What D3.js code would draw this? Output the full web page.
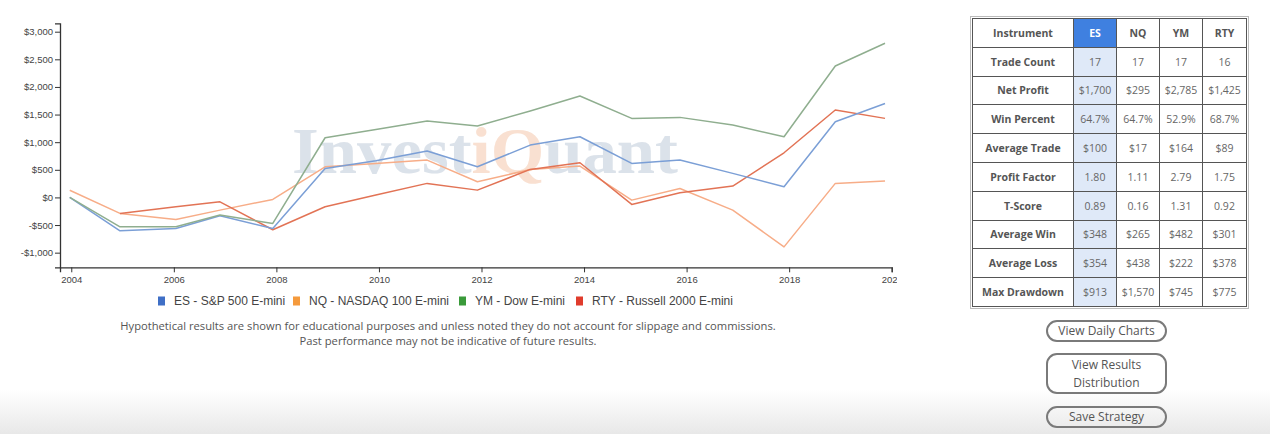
<!DOCTYPE html>
<html><head><meta charset="utf-8">
<script src="https://cdn.jsdelivr.net/npm/d3@7"></script>
<style>
html,body{margin:0;padding:0;width:1270px;height:434px;overflow:hidden;background:#fff;}
body{position:relative;font-family:"Liberation Sans",Arial,sans-serif;}
#bg{position:absolute;left:0;top:390px;width:1270px;height:44px;background:linear-gradient(#fff,#e8e8e8);}
#chart{position:absolute;left:0;top:0;}
#tbl{position:absolute;left:972px;top:18px;}
table{border-collapse:collapse;font-family:"Open Sans",sans-serif;font-size:10.5px;outline:1px solid #bbb;outline-offset:1px;}
td{border:1px solid #555;text-align:center;height:27.8px;padding:0;color:#666;}
td.lab{font-weight:bold;color:#555;width:100px;}
td.hd{font-weight:bold;color:#555;}
td.es{background:#dfe9f8;}
td.eshd{background:#3f80e0;color:#fff;font-weight:bold;}
.btn{position:absolute;left:1046px;width:121px;border:2px solid #7a7a7a;border-radius:11px;font-family:"Open Sans",sans-serif;font-size:12px;color:#555;text-align:center;box-sizing:border-box;}
#disc{position:absolute;left:0;width:896px;text-align:center;font-family:"Open Sans",sans-serif;font-size:11.2px;color:#555;line-height:15px;top:318px;}
</style></head>
<body>
<div id="bg"></div>
<svg id="chart" width="897" height="315"></svg>
<div id="disc">Hypothetical results are shown for educational purposes and unless noted they do not account for slippage and commissions.<br>Past performance may not be indicative of future results.</div>
<div id="tbl"></div>
<div class="btn" style="top:320px;height:22px;line-height:18px;">View Daily Charts</div>
<div class="btn" style="top:353px;height:41px;line-height:18px;padding-top:1px;">View Results<br>Distribution</div>
<div class="btn" style="top:406px;height:22px;line-height:18px;">Save Strategy</div>
<script>
// ---- data ----
const years = [2003.97, 2004.95, 2006.04, 2006.90, 2007.93, 2008.95, 2009.94, 2010.94, 2011.92, 2012.95, 2013.92, 2014.93, 2015.87, 2016.90, 2017.90, 2018.90, 2019.87];
const esValues  = [0, -605, -562, -333, -562, 525, 663, 839, 554, 947, 1098, 616, 676, 435, 192, 1370, 1700];
const nqValues  = [130, -290, -399, -230, -36, 554, 616, 676, 283, 507, 567, -49, 161, -230, -895, 254, 295];
const ymValues  = [0, -532, -532, -320, -471, 1080, 1230, 1382, 1292, 1565, 1835, 1430, 1449, 1310, 1098, 2379, 2790];
const rtyValues = [null, -290, -170, -80, -585, -170, 42, 254, 132, 507, 627, -127, 83, 205, 808, 1582, 1431];
const seriesNames = ["ES - S&P 500 E-mini", "NQ - NASDAQ 100 E-mini", "YM - Dow E-mini", "RTY - Russell 2000 E-mini"];
const yTicks = [-1000, -500, 0, 500, 1000, 1500, 2000, 2500, 3000];
const xTicks = [2004, 2006, 2008, 2010, 2012, 2014, 2016, 2018, 2020];

const tableHeader = ["Instrument", "ES", "NQ", "YM", "RTY"];
const tableRows = [
  ["Trade Count", "17", "17", "17", "16"],
  ["Net Profit", "$1,700", "$295", "$2,785", "$1,425"],
  ["Win Percent", "64.7%", "64.7%", "52.9%", "68.7%"],
  ["Average Trade", "$100", "$17", "$164", "$89"],
  ["Profit Factor", "1.80", "1.11", "2.79", "1.75"],
  ["T-Score", "0.89", "0.16", "1.31", "0.92"],
  ["Average Win", "$348", "$265", "$482", "$301"],
  ["Average Loss", "$354", "$438", "$222", "$378"],
  ["Max Drawdown", "$913", "$1,570", "$745", "$775"]
];

// ---- chart ----
const svg = d3.select("#chart");
const x = d3.scaleLinear().domain([2003.78, 2020]).range([60, 891.7]);
const y = d3.scaleLinear().domain([-1265, 3152]).range([267.3, 23.3]);

// watermark
const wm = svg.append("text").attr("x", 292).attr("y", 173)
  .attr("font-family", "'Liberation Serif','DejaVu Serif',serif").attr("font-size", 66).attr("font-weight", "bold")
  .attr("textLength", 386).attr("lengthAdjust", "spacingAndGlyphs").attr("opacity", 0.5);
wm.append("tspan").attr("fill", "#b9c6d6").text("Invest");
wm.append("tspan").attr("fill", "#f4c3a4").text("iQ");
wm.append("tspan").attr("fill", "#b9c6d6").text("uant");

const yAxis = svg.append("g").attr("transform", "translate(60,0)")
  .call(d3.axisLeft(y).tickValues(yTicks).tickSize(5).tickFormat(d => (d < 0 ? "-$" : "$") + d3.format(",")(Math.abs(d))));
const xAxis = svg.append("g").attr("transform", "translate(0,267.3)")
  .call(d3.axisBottom(x).tickValues(xTicks).tickSize(5).tickFormat(d3.format("d")));
[yAxis, xAxis].forEach(g => {
  g.selectAll("text").attr("font-family", "'Liberation Sans',Arial,sans-serif").attr("font-size", 9.5).attr("fill", "#444");
  g.selectAll("line").attr("stroke", "#333");
  g.select(".domain").attr("stroke", "#333").attr("stroke-width", 1.3);
});
yAxis.selectAll("text").attr("x", -7);
xAxis.selectAll("text").attr("y", 9);

const lineColors = ["#7b9fd6", "#f7ad88", "#8fae8f", "#e27355"];
const allSeries = [esValues, nqValues, ymValues, rtyValues];
const line = d3.line().defined(d => d[1] !== null).x(d => x(d[0])).y(d => y(d[1]));
[1, 3, 0, 2].forEach(i => {
  svg.append("path").datum(years.map((yr, j) => [yr, allSeries[i][j]]))
    .attr("d", line).attr("fill", "none").attr("stroke", lineColors[i]).attr("stroke-width", 1.5)
    .attr("stroke-linejoin", "round");
});

// legend
const legendColors = ["#3f6fc6", "#f59a3c", "#3a9a3a", "#e03c2c"];
const legendX = [158, 293, 459, 576];
const lg = svg.append("g");
seriesNames.forEach((n, i) => {
  lg.append("rect").attr("x", legendX[i]).attr("y", 296.5).attr("width", 7).attr("height", 9).attr("fill", legendColors[i]);
  lg.append("text").attr("x", legendX[i] + 16).attr("y", 305).text(n)
    .attr("font-family", "'Liberation Sans',Arial,sans-serif").attr("font-size", 12).attr("fill", "#444");
});

// ---- table ----
const table = d3.select("#tbl").append("table");
const hr = table.append("tr");
tableHeader.forEach((h, i) => {
  hr.append("td").attr("class", i === 0 ? "lab" : (i === 1 ? "eshd" : "hd"))
    .style("width", i === 0 ? "100px" : (i === 4 ? "43px" : "42px")).text(h);
});
tableRows.forEach(r => {
  const tr = table.append("tr");
  r.forEach((c, i) => tr.append("td").attr("class", i === 0 ? "lab" : (i === 1 ? "es" : "")).text(c));
});
</script>
</body></html>
